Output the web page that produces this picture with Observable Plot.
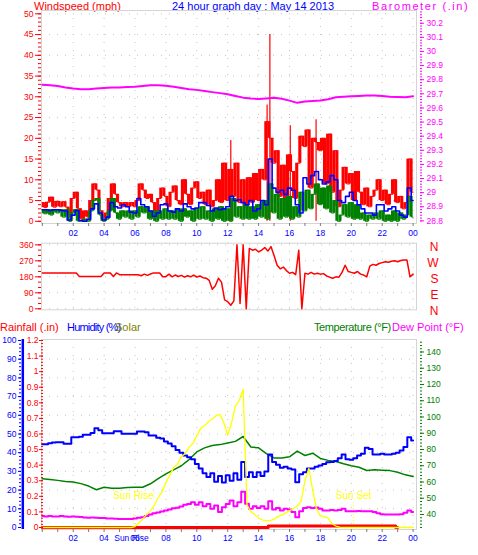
<!DOCTYPE html>
<html><head><meta charset="utf-8">
<script src="https://cdn.jsdelivr.net/npm/d3@7"></script>
<script src="https://cdn.jsdelivr.net/npm/@observablehq/plot@0.6"></script>
<style>
body{margin:0;background:#fff;}
#wrap{position:relative;width:478px;height:555px;overflow:hidden;background:#fff;font-family:"Liberation Sans",Arial,sans-serif;}
.t{position:absolute;font-size:11px;line-height:13px;white-space:nowrap;}
#wrap svg{position:absolute;left:0;}
</style></head><body><div id="wrap">
<div class="t" style="left:34px;top:-0.5px;color:#ff0000">Windspeed (mph)</div>
<div class="t" style="left:172px;top:-0.5px;color:#0000ff">24 hour graph day : May 14 2013</div>
<div class="t" style="left:372px;top:-0.5px;color:#ff00ff;letter-spacing:1.6px">Barometer (.in)</div>
<div class="t" style="left:0px;top:320.5px;color:#ff0000">Rainfall (.in)</div>
<div class="t" style="left:67px;top:320.5px;color:#0000ff;letter-spacing:-0.8px">Humidity (%)</div>
<div class="t" style="left:115px;top:320.5px;color:#808000">Solar</div>
<div class="t" style="left:314px;top:320.5px;color:#008000;letter-spacing:-0.4px">Temperature (°F)</div>
<div class="t" style="left:392px;top:320.5px;color:#ff00ff">Dew Point (°F)</div>
</div>
<script>
// ---------------- DATA ----------------
const hourLabels = ["02","04","06","08","10","12","14","16","18","20","22","00"];
const labelHours = [2,4,6,8,10,12,14,16,18,20,22,24];
const windTickLabels = ["0","5","10","15","20","25","30","35","40","45","50"];
const baroTickLabels = ["28.8","28.9","29","29.1","29.2","29.3","29.4","29.5","29.6","29.7","29.8","29.9","30","30.1","30.2"];
const dirTickLabels = ["0","90","180","270","360"];
const dirLetters = ["N","E","S","W","N"];
const humTickLabels = ["0","10","20","30","40","50","60","70","80","90","100"];
const rainTickLabels = ["0","0.1","0.2","0.3","0.4","0.5","0.6","0.7","0.8","0.9","1","1.1","1.2"];
const tempTickLabels = ["40","50","60","70","80","90","100","110","120","130","140"];

// wind gust (mph), every 0.2 h
const gustStep = 0.2;
const windGust = [
4.5,3.3,4.6,5.8,3.4, 4.8,3.5,4.7,3.4,1.0, 5.5,7.0,3.0,0.5,2.5, 1.0,5.0,9.0,7.5,2.5,
0.5,2.0,5.5,9.0,6.5, 4.5,3.5,4.5,3.5,4.5, 3.5,5.0,9.0,7.5,5.5, 6.5,4.5,2.0,5.5,8.0,
6.0,3.5,7.0,8.5,5.0, 4.0,10.0,6.5,4.0,8.0, 9.5,5.5,7.0,4.0,7.5, 3.5,5.0,10.0,4.5,14.0,
5.0,12.5,6.0,14.0,4.5, 10.0,3.5,10.5,4.5,11.5, 5.0,12.5,10.0,24.0,20.0, 14.0,17.0,6.0,13.5,5.0,
16.0,12.0,5.5,14.0,20.5, 18.0,22.0,8.0,20.0,19.0, 17.0,20.0,9.0,21.0,7.0, 17.0,3.5,7.5,13.0,9.0,
11.5,5.0,12.0,7.0,4.0, 8.0,3.5,6.0,7.5,10.0, 5.0,7.5,4.0,6.5,10.0, 4.5,6.0,3.0,4.5,15.0,
7.0];
// isolated peak gusts (thin spikes)
const gustPeakHours = [12.2, 14.55, 14.73, 16.05, 17.72];
const gustPeakValues = [19.5, 28, 45, 23, 24.5];
// wind speed (mph), every 0.2 h
const windSpeed = [
2.8,1.8,2.8,1.5,2.8, 2.0,2.8,1.0,2.8,0.0, 2.0,2.8,0.0,0.0,0.5, 0.0,2.5,5.0,5.5,1.5,
0.0,0.5,2.5,5.5,2.0, 0.5,2.5,1.0,2.5,0.5, 2.5,1.0,3.5,2.0,3.5, 0.5,2.5,0.0,2.5,0.5,
3.0,0.5,2.5,0.5,3.0, 0.0,3.0,1.0,2.5,0.0, 3.0,0.5,3.5,0.5,2.5, 0.0,3.0,0.5,3.5,0.0,
3.0,0.0,5.5,1.0,3.5, 0.5,4.0,0.5,3.5,0.5, 4.0,1.0,5.0,0.5,9.0, 2.0,6.5,0.5,5.5,1.0,
6.0,0.5,3.5,1.0,7.0, 2.5,7.5,3.0,6.5,9.0, 4.0,8.0,3.0,8.5,2.0, 5.0,0.0,1.5,4.0,1.0,
4.5,0.5,4.0,0.5,2.0, 0.0,1.5,0.5,2.0,0.5, 2.5,0.0,1.5,0.0,2.5, 0.0,2.0,0.5,1.5,6.0,
1.0];
// average wind (mph), every 0.25 h
const avgStep = 0.25;
const windAvg = [
2.8,2.8,2.6,2.8, 2.8,2.6,2.5,0.3, 1.5,2.6,0.2,0.0, 0.5,3.0,4.2,2.0, 0.3,1.0,4.5,3.5,
3.2,4.0,3.5,2.2, 2.0,5.5,4.0,3.5, 2.5,1.2,2.0,4.0, 4.2,2.5,2.2,3.0, 2.5,4.2,3.5,3.0,
3.2,4.5,4.5,3.8, 2.5,3.2,2.8,3.0, 3.5,6.0,5.0,5.2, 4.5,4.0,5.0,2.5, 3.0,5.0,4.0,15.0,
8.0,7.0,7.5,6.5, 8.0,7.5,4.0,2.0, 10.5,9.0,11.0,12.0, 10.0,9.0,9.5,11.0, 10.0,5.0,4.5,6.0,
7.0,5.0,4.0,3.0, 2.0,2.0,1.5,4.0, 4.0,2.5,3.0,3.5, 2.5,1.5,1.0,8.0, 5.0];
// barometer (in), every 0.5 h
const baroStep = 0.5;
const barometer = [
29.764,29.760,29.755,29.745,29.738,29.733,29.733,29.738,29.742,29.744,29.745,29.748,
29.750,29.756,29.760,29.761,29.757,29.750,29.742,29.733,29.728,29.720,29.712,29.705,
29.697,29.685,29.673,29.667,29.663,29.667,29.672,29.665,29.652,29.636,29.645,29.650,
29.653,29.662,29.676,29.680,29.683,29.685,29.688,29.688,29.684,29.680,29.678,29.676,29.683];
// wind direction (deg), every 0.2 h
const dirStep = 0.2;
const windDir = [
202,202,202,202,202, 202,202,202,202,202, 202,202,182,182,182, 182,182,182,182,182,
202,202,202,182,202, 192,192,192,192,192, 192,192,186,195,188, 196,202,202,202,180,
181,195,180,190,182, 188,178,186,180,190, 178,185,175,172,160, 110,130,172,150,50,
40,20,45,360,30, 360,0,340,330,335, 320,330,345,325,350, 300,245,225,235,215,
200,205,192,330,0, 200,195,205,195,200, 195,198,185,178,172, 180,178,205,245,210,
205,200,210,195,190, 180,240,250,245,255, 260,265,262,268,270, 265,272,275,275,180,
195];
// humidity (%), every 0.25 h
const humStep = 0.25;
const humidity = [
44.5,44.5,45.0,45.5, 45.6,45.6,44.8,44.8, 48.3,48.3,48.5,49.6, 49.6,50.5,53.1,52.0,
50.4,50.4,50.4,51.5, 51.5,50.1,50.1,50.1, 50.1,51.3,51.3,51.0, 49.2,49.2,48.0,47.6,
46.0,44.9,43.5,41.5, 40.0,38.5,37.6,36.5, 34.0,31.5,29.0,27.0, 29.0,24.5,27.5,24.0,
28.0,25.0,29.0,25.5, 35.0,27.0,29.5,27.0, 29.5,27.5,30.0,39.0, 35.0,33.5,32.0,32.5,
31.5,31.0,24.2,28.5, 29.5,31.5,31.5,32.5, 33.2,34.0,34.9,35.0, 35.5,37.0,39.0,36.5,
36.2,37.0,38.5,39.5, 42.6,42.0,39.0,39.0, 39.5,39.0,39.0,39.5, 40.0,41.2,43.0,48.3, 46.5];
// temperature (F), every 0.5 h
const tempStep = 0.5;
const temperature = [
62.0,61.5,61.0,60.3,60.0,59.0,57.5,55.2,56.8,56.2,56.2,56.6,56.8,56.8,58.9,62.0,
65.0,67.5,70.0,73.8,78.5,81.0,82.5,83.0,84.0,85.0,88.0,81.5,81.0,77.5,74.8,74.8,
75.5,79.0,76.3,77.7,74.5,73.3,72.6,71.2,70.0,69.1,67.1,67.5,67.3,67.0,66.0,64.4,63.4];
// dew point (F), every 0.25 h
const dewStep = 0.25;
const dewPoint = [
39.0,38.8,39.0,38.8, 38.8,39.0,38.8,38.6, 38.8,38.6,38.4,38.2, 38.0,38.2,38.0,37.8,
37.8,37.6,37.6,37.4, 37.3,37.3,37.3,37.3, 37.5,38.0,38.3,39.0, 40.0,40.8,41.2,41.8,
42.5,43.0,43.8,44.2, 44.9,46.0,46.5,47.6, 46.0,47.5,45.0,46.5, 43.5,45.5,41.5,44.5,
46.5,48.6,45.0,47.5, 54.0,46.6,43.5,45.0, 44.0,45.0,43.5,48.2, 43.0,44.0,42.5,43.5,
43.0,41.5,38.3,42.0, 44.0,44.5,44.0,44.3, 43.5,42.5,42.5,42.7, 42.5,42.8,43.5,42.0,
42.0,42.0,42.2,42.0, 42.0,42.0,41.5,40.8, 40.2,40.0,40.0,40.0, 40.0,40.2,41.0,42.5, 41.5];
// solar radiation (W/m2), every 0.25 h
const solarStep = 0.25;
const solar = [
0,0,0,0, 0,0,0,0, 0,0,0,0, 0,0,0,0, 0,0,0,0, 0,0,0,0,
5,25,45,70, 90,118,160,190, 240,280,320,340, 380,395,430,450,
490,530,545,565, 580,598,605,560, 495,560,650,680, 740,120,85,70,
50,40,37,37, 45,58,66,78, 90,100,115,140, 250,316,200,100,
62,58,50,20, 8,2,0,0, 0,0,0,0, 0,0,0,0, 0,0,0,0, 0,0,0,0, 0];
// rainfall (in), every 0.25 h
const rainStep = 0.25;
const rainfall = [
0,0,0,0, 0,0,0,0, 0,0,0,0, 0,0,0,0, 0,0,0,0, 0,0,0,0, 0,0,0,0, 0,0,0,0,
0,0,0,0, 0,0,0,0, 0,0,0,0, 0,0,0,0, 0,0,0,0, 0,0,0,0, 0,0,0,0.01,
0.01,0.01,0.01,0.01, 0.01,0.01,0.01,0.01, 0.01,0.01,0.01,0.01, 0.01,0.01,0.01,0.01,
0.01,0.01,0.01,0.01, 0.01,0.01,0.01,0.01, 0.01,0.01,0.01,0.01, 0.01,0.01,0.01,0.01, 0];
const sunHours = [5.9, 20.15];
const sunNames = ["Sun Rise", "Sun Set"];
const sunMarkSolar = [82, 135];

// ---------------- STYLE ----------------
const RED="#ff0000", BLUE="#0000ff", GREEN="#008000", MAG="#ff00ff", YEL="#ffff00";
const GRID="#c4c4c4", FRAME="#d4d4d4", TICK="#7a7a7a";
const W = 478, ML = 41, MR = 62;
const xDomain = [-0.052, 24.22];
const FONT = '"Liberation Sans", Arial, sans-serif';
const baseStyle = {background:"transparent", overflow:"visible", fontFamily:FONT, fontSize:"8.5px"};
const DOTS = "1,7";

const pts = (vals, step, f = v => v) => vals.map((v,i) => ({h: i*step, v: f(v)}));
const segs = (vals, step) => vals.slice(1).map((v,i) => ({h1: i*step, h2: (i+1)*step, lo: Math.min(v, vals[i]), hi: Math.max(v, vals[i])}));
const fmtMap = (pos, labels) => { const m = new Map(pos.map((p,i)=>[p, labels[i]])); return d => m.has(d) ? m.get(d) : ""; };
const blank = () => "";
const hourTicks = d3.range(0, 25);

// ---------------- TOP PANEL ----------------
const baroToW = b => (b - 28.797) * 34.02;
const windPos = windTickLabels.map(Number);
const baroPos = baroTickLabels.map(s => baroToW(+s));
const baroMinor = d3.range(0, 75).map(i => baroToW(28.8 + i*0.02));

const windPanel = Plot.plot({
  width: W, height: 240, marginLeft: ML, marginRight: MR, marginTop: 10, marginBottom: 17,
  x: {domain: xDomain}, y: {domain: [-0.53, 50.8], label: null},
  style: baseStyle,
  marks: [
    Plot.gridY(windPos.slice(1), {stroke: GRID, strokeOpacity: 1, strokeDasharray: DOTS}),
    Plot.gridX(labelHours, {stroke: GRID, strokeOpacity: 1, strokeDasharray: DOTS}),
    Plot.frame({stroke: FRAME}),
    Plot.ruleX(gustPeakHours, {x: d => d, y1: 0, y2: (d,i) => gustPeakValues[i], stroke: RED, strokeWidth: 1.2}),
    Plot.rect(segs(windGust, gustStep), {x1:"h1", x2:"h2", y1:"lo", y2:"hi", fill: RED}),
    Plot.line(pts(windGust, gustStep), {x:"h", y:"v", curve:"step", stroke: RED, strokeWidth: 1}),
    Plot.rect(segs(windSpeed, gustStep), {x1:"h1", x2:"h2", y1:"lo", y2:"hi", fill: GREEN}),
    Plot.line(pts(windSpeed, gustStep), {x:"h", y:"v", curve:"step", stroke: GREEN, strokeWidth: 1}),
    Plot.line(pts(windAvg, avgStep), {x:"h", y:"v", curve:"step", stroke: BLUE, strokeWidth: 1.6}),
    Plot.line(pts(barometer, baroStep, baroToW), {x:"h", y:"v", stroke: MAG, strokeWidth: 2}),
    Plot.axisY(windPos, {anchor:"left", tickSize: 6, tickPadding: 2, fill: RED, stroke: RED, label: null, tickFormat: fmtMap(windPos, windTickLabels)}),
    Plot.axisY(d3.range(0, 51), {anchor:"left", tickSize: 3, tickPadding: 0, stroke: RED, label: null, tickFormat: blank}),
    Plot.axisY(baroPos, {anchor:"right", tickSize: 4, tickPadding: 3, dx: 3, fill: MAG, stroke: MAG, label: null, tickFormat: fmtMap(baroPos, baroTickLabels)}),
    Plot.axisY(baroMinor, {anchor:"right", tickSize: 2, dx: 3, stroke: MAG, label: null, tickFormat: blank}),
    Plot.axisX(hourTicks, {anchor:"bottom", tickSize: 3, stroke: TICK, label: null, tickFormat: blank}),
    Plot.text(labelHours, {x: d => d, frameAnchor: "bottom", dy: 12, text: (d,i) => hourLabels[i], fill: BLUE})
  ]
});
windPanel.style.top = "0px";

// ---------------- DIRECTION PANEL ----------------
const dirPos = dirTickLabels.map(Number);
const dirPanel = Plot.plot({
  width: W, height: 80, marginLeft: ML, marginRight: MR, marginTop: 2.7, marginBottom: 10.7,
  x: {domain: xDomain, axis: null}, y: {domain: [-5.6, 369.2], label: null},
  style: baseStyle,
  marks: [
    Plot.gridY(dirPos, {stroke: GRID, strokeOpacity: 1, strokeDasharray: DOTS}),
    Plot.gridX(labelHours, {stroke: GRID, strokeOpacity: 1, strokeDasharray: DOTS}),
    Plot.frame({stroke: FRAME}),
    Plot.line(pts(windDir, dirStep), {x:"h", y:"v", stroke: RED, strokeWidth: 1.5}),
    Plot.axisY(dirPos, {anchor:"left", tickSize: 6, tickPadding: 2, fill: RED, stroke: RED, label: null, tickFormat: fmtMap(dirPos, dirTickLabels)}),
    Plot.axisY(d3.range(0, 361, 30), {anchor:"left", tickSize: 3, stroke: RED, label: null, tickFormat: blank}),
    Plot.text(dirPos, {y: d => d, frameAnchor: "right", dx: 22, dy: 2, text: (d,i) => dirLetters[i], fill: RED, fontSize: 12})
  ]
});
dirPanel.style.top = "240px";

// ---------------- BOTTOM PANEL ----------------
const tempToH = t => 6.952 + (t - 40) * 0.869;
const rainToH = r => r * 100 / 1.2;
const solarToH = s => s / 10;
const humPos = humTickLabels.map(Number);
const rainPos = rainTickLabels.map(s => rainToH(+s));
const tempPos = tempTickLabels.map(s => tempToH(+s));

const climatePanel = Plot.plot({
  width: W, height: 220, marginLeft: ML, marginRight: MR, marginTop: 4, marginBottom: 26,
  x: {domain: xDomain}, y: {domain: [-1.07, 100.53], label: null},
  style: baseStyle,
  marks: [
    Plot.gridY(humPos.slice(1, 10), {stroke: GRID, strokeOpacity: 1, strokeDasharray: DOTS}),
    Plot.gridX(labelHours, {stroke: GRID, strokeOpacity: 1, strokeDasharray: DOTS}),
    Plot.frame({stroke: FRAME}),
    Plot.ruleX(sunHours, {x: d => d, y1: 0, y2: (d,i) => solarToH(sunMarkSolar[i]), stroke: YEL, strokeDasharray: "1,2"}),
    Plot.text(sunHours, {x: d => d, frameAnchor: "bottom", dy: -31, text: (d,i) => sunNames[i], fill: YEL, fontSize: 10}),
    Plot.line(pts(rainfall, rainStep, rainToH), {x:"h", y:"v", curve:"step", stroke: RED, strokeWidth: 3}),
    Plot.line(pts(temperature, tempStep, tempToH), {x:"h", y:"v", stroke: GREEN, strokeWidth: 1.5}),
    Plot.line(pts(humidity, humStep), {x:"h", y:"v", curve:"step", stroke: BLUE, strokeWidth: 2}),
    Plot.line(pts(dewPoint, dewStep, tempToH), {x:"h", y:"v", curve:"step", stroke: MAG, strokeWidth: 2}),
    Plot.line(pts(solar, solarStep, solarToH), {x:"h", y:"v", stroke: YEL, strokeWidth: 1.3}),
    Plot.ruleX([0], {dx: -19.5, stroke: BLUE, strokeWidth: 2.5}),
    Plot.axisY(humPos, {anchor:"left", dx: -20, tickSize: 3, tickPadding: 2, fill: BLUE, stroke: BLUE, label: null, tickFormat: fmtMap(humPos, humTickLabels)}),
    Plot.axisY(d3.range(0, 101, 2), {anchor:"left", dx: -20, tickSize: 2, stroke: BLUE, label: null, tickFormat: blank}),
    Plot.axisY(rainPos, {anchor:"left", dx: 2, tickSize: 4, tickPadding: 1, fill: RED, stroke: RED, label: null, tickFormat: fmtMap(rainPos, rainTickLabels)}),
    Plot.axisY(d3.range(0, 61).map(i => rainToH(i*0.02)), {anchor:"left", dx: 2, tickSize: 2, stroke: RED, label: null, tickFormat: blank}),
    Plot.axisY(tempPos, {anchor:"right", dx: 3, tickSize: 4, tickPadding: 3, fill: GREEN, stroke: GREEN, label: null, tickFormat: fmtMap(tempPos, tempTickLabels)}),
    Plot.axisY(d3.range(0, 58).map(i => tempToH(32 + i*2)), {anchor:"right", dx: 3, tickSize: 2, stroke: GREEN, label: null, tickFormat: blank}),
    Plot.axisX(hourTicks, {anchor:"bottom", tickSize: 3, stroke: TICK, label: null, tickFormat: blank}),
    Plot.text(labelHours, {x: d => d, frameAnchor: "bottom", dy: 11, text: (d,i) => hourLabels[i], fill: BLUE}),
    Plot.text(sunHours.slice(0,1), {x: d => d, frameAnchor: "bottom", dy: 11, dx: -2, text: () => sunNames[0], fill: BLUE})
  ]
});
climatePanel.style.top = "335px";

const wrap = document.getElementById("wrap");
wrap.append(windPanel, dirPanel, climatePanel);
</script>
</body></html>
